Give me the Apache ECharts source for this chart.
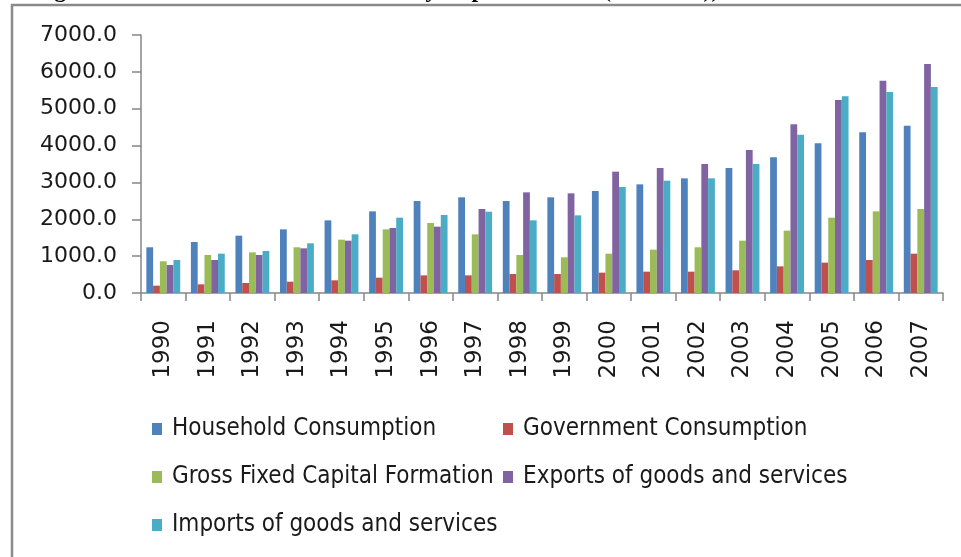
<!DOCTYPE html>
<html>
<head>
<meta charset="utf-8">
<script src="https://cdn.jsdelivr.net/npm/echarts@6/dist/echarts.min.js"></script>
<style>
  html, body { margin: 0; padding: 0; background: #ffffff; }
  #chart { width: 961px; height: 557px; }
</style>
</head>
<body>
<div id="chart"></div>
<script>
// GDP by expenditure components, 1990-2007
const years = ['1990','1991','1992','1993','1994','1995','1996','1997','1998',
               '1999','2000','2001','2002','2003','2004','2005','2006','2007'];

const householdConsumption = [1240,1384,1555,1727,1971,2215,2496,2596,2496,2596,2767,2948,3111,3391,3681,4061,4360,4540];
const governmentConsumption = [199,235,271,307,344,416,479,479,515,515,552,579,579,615,723,823,895,1067];
const grossFixedCapital = [860,1031,1103,1240,1447,1727,1899,1592,1031,968,1067,1176,1240,1420,1691,2044,2215,2279];
const exportsGoods = [760,895,1031,1212,1420,1763,1800,2279,2731,2704,3292,3391,3500,3880,4577,5236,5761,6213];
const importsGoods = [895,1067,1140,1348,1592,2044,2116,2206,1971,2107,2876,3047,3111,3500,4296,5336,5454,5589];

const seriesNames = [
  'Household Consumption',
  'Government Consumption',
  'Gross Fixed Capital Formation',
  'Exports of goods and services',
  'Imports of goods and services'
];
const seriesValues = [householdConsumption, governmentConsumption, grossFixedCapital, exportsGoods, importsGoods];
const seriesColors = ['#4F81BD', '#C0504D', '#9BBB59', '#8064A2', '#4BACC6'];

const yTicks = { min: 0, max: 7000, interval: 1000 };

const axisGray = '#868686';
const legendFont = '"Liberation Sans Narrow", "DejaVu Sans Condensed", sans-serif';

// one legend block per entry so the entries sit on a two-column grid
const legendSlots = [
  { left: 152, top: 417 },
  { left: 503, top: 417 },
  { left: 152, top: 465 },
  { left: 503, top: 465 },
  { left: 152, top: 513 }
];

const chart = echarts.init(document.getElementById('chart'), null, { renderer: 'canvas' });

chart.setOption({
  animation: false,
  backgroundColor: '#ffffff',
  color: seriesColors,
  graphic: [
    {
      type: 'text',
      left: 33,
      top: -21,
      silent: true,
      style: {
        text: 'Figure 1: Real GDP trends classified by Expenditure at (Rs. crore))',
        font: 'bold 24px "Liberation Serif", "DejaVu Serif", serif',
        fill: '#000000'
      }
    },
    {
      type: 'rect',
      silent: true,
      shape: { x: 12, y: 5, width: 1000, height: 600 },
      style: { fill: 'none', stroke: '#8a8a8a', lineWidth: 2.5 }
    }
  ],
  legend: legendSlots.map((slot, i) => ({
    data: [seriesNames[i]],
    left: slot.left,
    top: slot.top,
    padding: 0,
    orient: 'horizontal',
    itemWidth: 10,
    itemHeight: 12,
    icon: 'rect',
    selectedMode: false,
    textStyle: {
      fontFamily: legendFont,
      fontSize: 24,
      color: '#1a1a1a',
      padding: [0, 0, 0, 5]
    }
  })),
  grid: {
    left: 141,
    right: 18,
    top: 35,
    height: 258,
    containLabel: false
  },
  xAxis: {
    type: 'category',
    data: years,
    boundaryGap: true,
    axisLine: { show: true, lineStyle: { color: axisGray, width: 1.5 } },
    axisTick: { show: true, alignWithLabel: false, length: 8, lineStyle: { color: axisGray, width: 1.5 } },
    axisLabel: {
      rotate: 90,
      margin: 27,
      interval: 0,
      fontFamily: '"DejaVu Sans", sans-serif',
      fontSize: 23,
      color: '#1a1a1a'
    },
    splitLine: { show: false }
  },
  yAxis: {
    type: 'value',
    min: yTicks.min,
    max: yTicks.max,
    interval: yTicks.interval,
    axisLine: { show: true, lineStyle: { color: axisGray, width: 1.5 } },
    axisTick: { show: true, length: 9, lineStyle: { color: axisGray, width: 1.5 } },
    axisLabel: {
      margin: 24,
      fontFamily: '"DejaVu Sans", sans-serif',
      fontSize: 22,
      color: '#1a1a1a',
      formatter: v => v.toFixed(1)
    },
    splitLine: { show: false }
  },
  series: seriesNames.map((name, i) => ({
    name: name,
    type: 'bar',
    data: seriesValues[i],
    barGap: '0%',
    barCategoryGap: '24%',
    itemStyle: { color: seriesColors[i] }
  }))
});
</script>
</body>
</html>
